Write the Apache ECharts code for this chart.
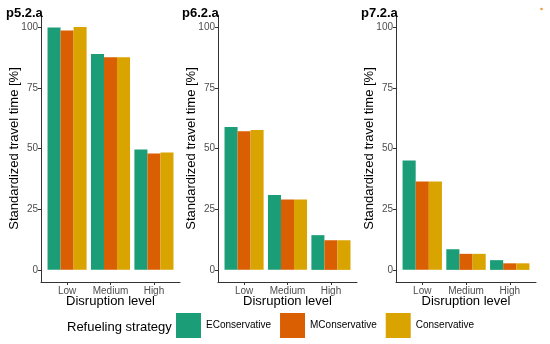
<!DOCTYPE html>
<html>
<head>
<meta charset="utf-8">
<script src="https://cdn.jsdelivr.net/npm/echarts@6/dist/echarts.min.js"></script>
<style>
html,body{margin:0;padding:0;background:#fff;}
#chart{width:550px;height:344px;}
</style>
</head>
<body>
<div id="chart"></div>
<script>
const categories = ['Low', 'Medium', 'High'];
const panels = ['p5.2.a', 'p6.2.a', 'p7.2.a'];
const strategies = ['EConservative', 'MConservative', 'Conservative'];
const yTicks = [0, 25, 50, 75, 100];

// values per panel, per strategy, over categories
const p5_EConservative = [99.8, 88.9, 49.6];
const p5_MConservative = [98.6, 87.6, 47.9];
const p5_Conservative  = [100.1, 87.6, 48.4];
const p6_EConservative = [58.9, 30.8, 14.3];
const p6_MConservative = [57.1, 29.0, 12.2];
const p6_Conservative  = [57.6, 29.0, 12.2];
const p7_EConservative = [45.1, 8.5, 4.0];
const p7_MConservative = [36.4, 6.6, 2.7];
const p7_Conservative  = [36.4, 6.6, 2.7];

const panelData = [
  [p5_EConservative, p5_MConservative, p5_Conservative],
  [p6_EConservative, p6_MConservative, p6_Conservative],
  [p7_EConservative, p7_MConservative, p7_Conservative]
];

const colors = ['#1B9E77', '#D95F02', '#D9A300'];
const FONT = 'Liberation Sans, Arial, sans-serif';
const gridLefts = [41, 218, 396];
const gridWidths = [139, 139, 140];
const titleLefts = [6, 182, 361];

const grids = [], xAxes = [], yAxes = [], series = [], titles = [];
panels.forEach((p, g) => {
  grids.push({left: gridLefts[g], top: 15, width: gridWidths[g], height: 267});
  titles.push({text: p, left: titleLefts[g], top: 7, padding: 0,
    textStyle: {fontFamily: FONT, fontSize: 13, fontWeight: 'bold', color: '#000'}});
  xAxes.push({
    type: 'value', gridIndex: g, min: 0.4, max: 3.6,
    axisLine: {show: true, onZero: false, lineStyle: {color: '#333', width: 1}},
    axisTick: {show: true, length: 3, customValues: [1, 2, 3], lineStyle: {color: '#333'}},
    axisLabel: {customValues: [1, 2, 3], margin: 4, color: '#4D4D4D', fontFamily: FONT, fontSize: 10,
      formatter: v => categories[Math.round(v) - 1] || ''},
    splitLine: {show: false},
    name: 'Disruption level', nameLocation: 'middle', nameGap: 13, nameMoveOverlap: false,
    nameTextStyle: {fontFamily: FONT, fontSize: 13, color: '#000', verticalAlign: 'top'}
  });
  yAxes.push({
    type: 'value', gridIndex: g, min: -5, max: 105,
    axisLine: {show: true, onZero: false, lineStyle: {color: '#333', width: 1}},
    axisTick: {show: true, length: 3, customValues: yTicks, lineStyle: {color: '#333'}},
    axisLabel: {customValues: yTicks, margin: 3, color: '#4D4D4D', fontFamily: FONT, fontSize: 10},
    splitLine: {show: false},
    name: 'Standardized travel time [%]', nameLocation: 'middle', nameGap: 20, nameMoveOverlap: false,
    nameTextStyle: {fontFamily: FONT, fontSize: 13, color: '#000'}
  });
  strategies.forEach((s, k) => {
    series.push({
      type: 'bar', name: s, xAxisIndex: g, yAxisIndex: g,
      barGap: '0%', barCategoryGap: '10%',
      itemStyle: {color: colors[k]},
      emphasis: {disabled: true},
      data: panelData[g][k].map((v, i) => [i + 1, v])
    });
  });
});

titles.push({text: 'Refueling strategy', left: 67, top: 321, padding: 0,
  textStyle: {fontFamily: FONT, fontSize: 13, fontWeight: 'normal', color: '#000'}});

const chart = echarts.init(document.getElementById('chart'), null, {renderer: 'canvas'});
chart.setOption({
  animation: false,
  backgroundColor: '#fff',
  title: titles,
  grid: grids,
  xAxis: xAxes,
  yAxis: yAxes,
  legend: {
    data: strategies, left: 176, top: 313, padding: 0, itemWidth: 25, itemHeight: 25, itemGap: 9,
    icon: 'rect', selectedMode: false,
    textStyle: {fontFamily: FONT, fontSize: 10, color: '#000'}
  },
  graphic: [{type: 'circle', shape: {cx: 541.5, cy: 9, r: 1.3}, style: {fill: '#F39A3A'}}],
  series: series
});
</script>
</body>
</html>
